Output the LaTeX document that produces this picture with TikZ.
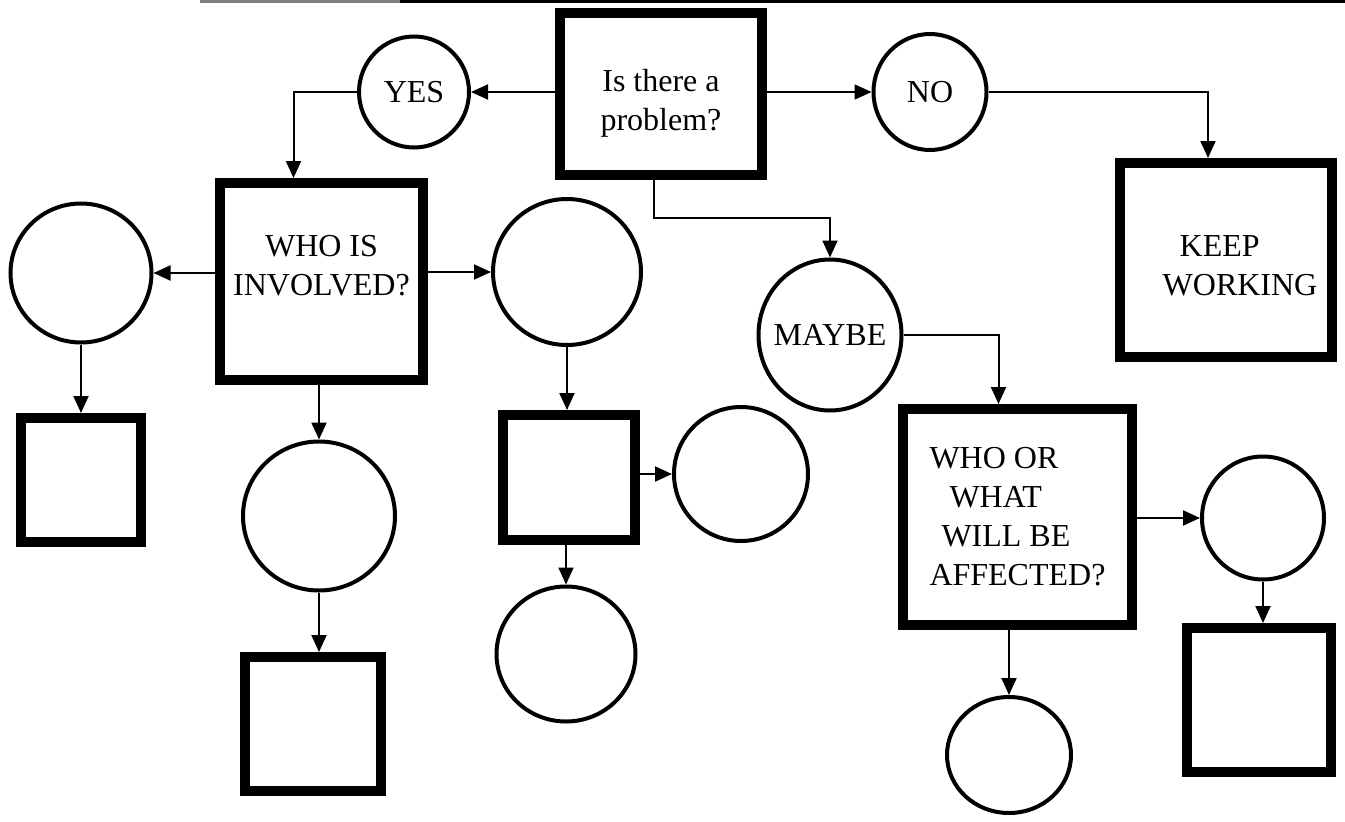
\documentclass[tikz,border=0pt]{standalone}
\usepackage{fontspec}
\setmainfont{Liberation Serif}
\usetikzlibrary{shapes.geometric,arrows.meta}

\begin{document}
\begin{tikzpicture}[x=1pt,y=-1pt,
  bigbox/.style={draw,rectangle,line width=10pt,inner sep=0pt,align=center},
  circ/.style={draw,ellipse,line width=4pt,inner sep=0pt},
  arr/.style={line width=2pt,-{Triangle[length=17pt,width=15pt]}},
  font=\fontsize{32}{39}\selectfont]
\useasboundingbox (0,0) rectangle (1345,822);
\draw[line width=3pt,gray] (200,1.5) -- (400,1.5);
\draw[line width=3pt] (400,1.5) -- (1345,1.5);

\node[bigbox,minimum width=202pt,minimum height=162pt,text height=80pt] (prob) at (661,94) {Is there a\\problem?};
\node[circ,minimum width=110pt,minimum height=111pt] (yes) at (414,92) {YES};
\node[circ,minimum width=113pt,minimum height=116pt] (no) at (930,92) {NO};
\node[bigbox,minimum width=212pt,minimum height=194pt,align=left,text height=71pt] (keep) at (1226,260) {\hspace{45pt}KEEP\\\hspace{28pt}WORKING};
\node[bigbox,minimum width=203pt,minimum height=197pt,text depth=32pt] (whois) at (321.5,281.5) {WHO IS\\INVOLVED?};
\node[circ,minimum width=141pt,minimum height=139pt] (c1) at (81,273) {};
\node[bigbox,minimum width=120pt,minimum height=124pt] (b1) at (81,480) {};
\node[circ,minimum width=152pt,minimum height=149pt] (c2) at (319,516) {};
\node[bigbox,minimum width=136pt,minimum height=134pt] (b2) at (313,724) {};
\node[circ,minimum width=148pt,minimum height=146pt] (c3) at (567,272) {};
\node[bigbox,minimum width=132pt,minimum height=125pt] (b3) at (569,477.5) {};
\node[circ,minimum width=134pt,minimum height=134pt] (c4) at (741,474) {};
\node[circ,minimum width=139pt,minimum height=135pt] (c5) at (566,654) {};
\node[circ,minimum width=143pt,minimum height=151pt,inner xsep=-20pt] (maybe) at (830,335) {MAYBE};
\node[bigbox,minimum width=229pt,minimum height=216pt,align=left] (whoor) at (1017.5,517) {WHO OR\\\hspace{20pt}WHAT\\\hspace{12pt}WILL BE\\AFFECTED?};
\node[circ,minimum width=122pt,minimum height=123pt] (c6) at (1263,518) {};
\node[bigbox,minimum width=144pt,minimum height=144pt] (b6) at (1259,700) {};
\node[circ,minimum width=124pt,minimum height=116pt] (c7) at (1009,755) {};

\draw[arr] (prob.west |- yes) -- (yes.east);
\draw[arr] (yes.west) -| ([xshift=-28pt]whois.north);
\draw[arr] (prob.east |- no) -- (no.west);
\draw[arr] (no.east) -| ([xshift=-18pt]keep.north);
\draw[arr] ([xshift=-7pt]prob.south) -- ++(0,38) -| (maybe.north);
\draw[arr] (maybe.east) -| ([xshift=-19pt]whoor.north);
\draw[arr] (whois.west |- c1) -- (c1.east);
\draw[arr] (whois.east |- c3) -- (c3.west);
\draw[arr] (c1.south) -- (b1.north);
\draw[arr] (whois.south -| c2) -- (c2.north);
\draw[arr] (c2.south) -- (c2.south |- b2.north);
\draw[arr] (c3.south) -- (c3.south |- b3.north);
\draw[arr] (b3.east |- c4) -- (c4.west);
\draw[arr] (b3.south -| c5) -- (c5.north);
\draw[arr] (whoor.east |- c6) -- (c6.west);
\draw[arr] (c6.south) -- (c6.south |- b6.north);
\draw[arr] (whoor.south -| c7) -- (c7.north);
\end{tikzpicture}
\end{document}
